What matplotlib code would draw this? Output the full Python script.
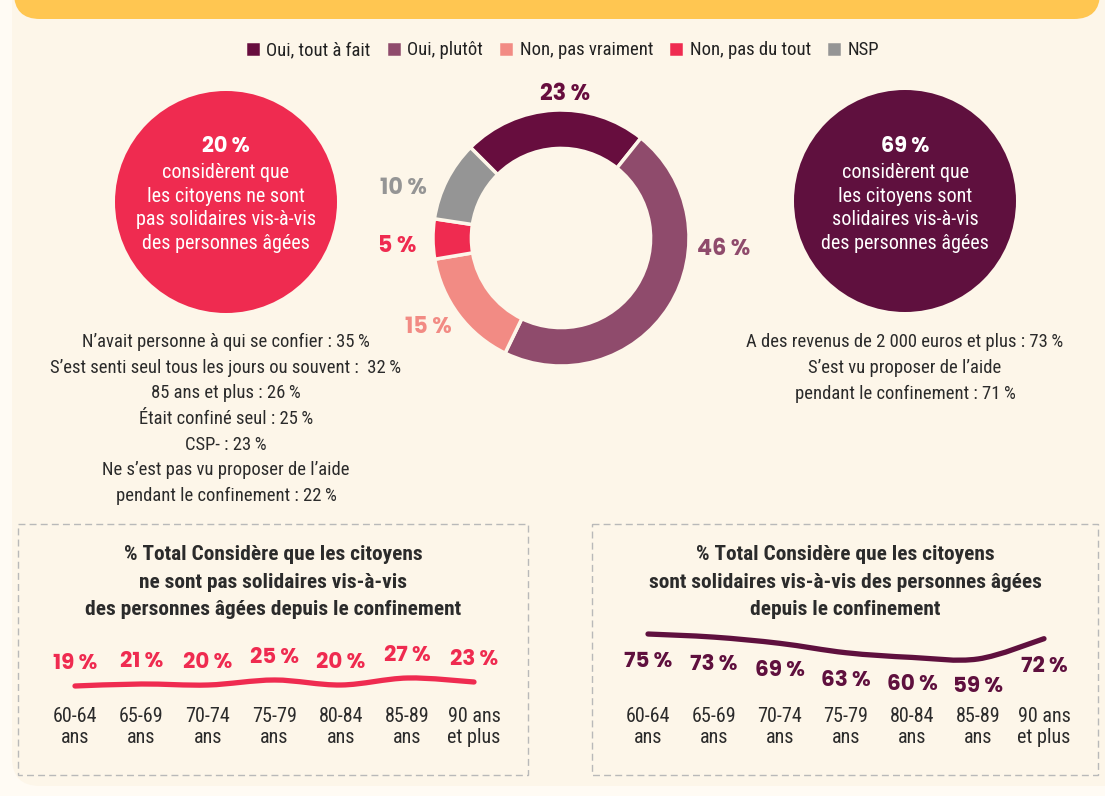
import matplotlib
matplotlib.use("Agg")
import matplotlib.pyplot as plt
import numpy as np
from matplotlib.patches import Circle, FancyBboxPatch, Rectangle, PathPatch
from matplotlib.path import Path

# --- Data ---
answers = ["Oui, tout à fait", "Oui, plutôt", "Non, pas vraiment", "Non, pas du tout", "NSP"]
shares = [23, 46, 15, 5, 10]
answer_colors = ["#670D3E", "#8F4B6C", "#F28B84", "#EF2B50", "#959595"]

not_solidary_total = 20
solidary_total = 69

not_solidary_profile = [
    "N\u2019avait personne à qui se confier : 35\u2009%",
    "S\u2019est senti seul tous les jours ou souvent :  32\u2009%",
    "85 ans et plus : 26\u2009%",
    "Était confiné seul : 25\u2009%",
    "CSP- : 23\u2009%",
    "Ne s\u2019est pas vu proposer de l\u2019aide",
    "pendant le confinement : 22\u2009%",
]
solidary_profile = [
    "A des revenus de 2 000 euros et plus : 73\u2009%",
    "S\u2019est vu proposer de l\u2019aide",
    "pendant le confinement : 71\u2009%",
]

age_groups = ["60-64\nans", "65-69\nans", "70-74\nans", "75-79\nans",
              "80-84\nans", "85-89\nans", "90 ans\net plus"]
not_solidary_by_age = [19, 21, 20, 25, 20, 27, 23]
solidary_by_age = [75, 73, 69, 63, 60, 59, 72]

# --- Style ---
W, H = 1105, 796
BG = "#FDF6E9"
TEXT = "#2B2B2B"
RED = "#EF2B50"
PLUM = "#5F103E"
NARROW = ["Roboto Condensed", "DejaVu Sans"]
HEAVY = ["Poppins", "DejaVu Sans"]

fig = plt.figure(figsize=(W / 100, H / 100), dpi=100)
fig.patch.set_facecolor("#FFFBF4")


def px_axes(left, top, width, height):
    """Axes placed with pixel coordinates measured from the top-left corner."""
    return fig.add_axes([left / W, 1 - (top + height) / H, width / W, height / H])


def smooth_path(xs, ys):
    """Catmull-Rom style bezier through the given points."""
    pts = np.column_stack([xs, ys]).astype(float)
    verts, codes = [pts[0]], [Path.MOVETO]
    for i in range(len(pts) - 1):
        p0, p1 = pts[max(i - 1, 0)], pts[i]
        p2, p3 = pts[i + 1], pts[min(i + 2, len(pts) - 1)]
        verts += [p1 + (p2 - p0) / 6, p2 - (p3 - p1) / 6, p2]
        codes += [Path.CURVE4] * 3
    return Path(verts, codes)


# background canvas in pixel units
bg = px_axes(0, 0, W, H)
bg.set_xlim(0, W)
bg.set_ylim(H, 0)
bg.axis("off")
bg.add_patch(FancyBboxPatch((12, -40), W + 30, H + 30, boxstyle="round,pad=0,rounding_size=28",
                            facecolor=BG, edgecolor="none"))
bg.add_patch(FancyBboxPatch((14, -60), 1086, 79, boxstyle="round,pad=0,rounding_size=26",
                            facecolor="#FFC651", edgecolor="none"))

# side bubbles
bg.add_patch(Circle((226, 202), 111, facecolor=RED, edgecolor="none"))
bg.add_patch(Circle((905, 201), 111, facecolor=PLUM, edgecolor="none"))
bubble_text = "considèrent que\n{}\n{}\ndes personnes âgées"
bg.text(226, 147, f"{not_solidary_total}\u2009%", color="white", ha="center", va="center",
        family=HEAVY, weight="bold", fontsize=15)
bg.text(226, 208, bubble_text.format("les citoyens ne sont", "pas solidaires vis-à-vis"),
        color="white", ha="center", va="center", family=NARROW, fontsize=14.5, linespacing=1.3)
bg.text(905, 147, f"{solidary_total}\u2009%", color="white", ha="center", va="center",
        family=HEAVY, weight="bold", fontsize=15)
bg.text(905, 208, bubble_text.format("les citoyens sont", "solidaires vis-à-vis"),
        color="white", ha="center", va="center", family=NARROW, fontsize=14.5, linespacing=1.3)

# profile lists under bubbles
bg.text(226, 419, "\n".join(not_solidary_profile), color=TEXT, ha="center", va="center",
        family=NARROW, fontsize=13.4, linespacing=1.54)
bg.text(905, 368, "\n".join(solidary_profile), color=TEXT, ha="center", va="center",
        family=NARROW, fontsize=13.4, linespacing=1.54)

# --- Donut ---
ax_d = px_axes(433, 110, 256, 256)
wedges, _ = ax_d.pie(shares, colors=answer_colors, startangle=135, counterclock=False,
                     radius=1, wedgeprops=dict(width=0.3, edgecolor=BG, linewidth=2.5))
ax_d.set_xlim(-1, 1)
ax_d.set_ylim(-1, 1)
ax_d.set_aspect("equal")
label_pos = [(0.03, 1.12), (1.27, -0.09), (-1.04, -0.70), (-1.28, -0.07), (-1.23, 0.39)]
for share, color, (lx, ly) in zip(shares, answer_colors, label_pos):
    ax_d.text(lx, ly, f"{share}\u2009%", color=color, ha="center", va="center",
              family=HEAVY, weight="bold", fontsize=16, clip_on=False)

fig.legend(wedges, answers, loc="center", bbox_to_anchor=(562 / W, 1 - 50 / H), ncol=5,
           frameon=False, handlelength=0.85, handleheight=1.0, handletextpad=0.3,
           columnspacing=0.8, borderpad=0, prop=dict(family=NARROW, size=13.5),
           labelcolor="#222222")

# --- Age group panels ---
for x0, x1 in [(18, 528), (592, 1098)]:
    bg.add_patch(Rectangle((x0, 524), x1 - x0, 251, facecolor="none", edgecolor="#B9B9B9",
                           linewidth=1, linestyle=(0, (5, 3))))

bg.text(273, 582, "% Total Considère que les citoyens\nne sont pas solidaires vis-à-vis\n"
        "des personnes âgées depuis le confinement", color=TEXT, ha="center", va="center",
        family=NARROW, weight="bold", fontsize=15.4, linespacing=1.56)
bg.text(845, 582, "% Total Considère que les citoyens\nsont solidaires vis-à-vis des personnes âgées\n"
        "depuis le confinement", color=TEXT, ha="center", va="center",
        family=NARROW, weight="bold", fontsize=15.4, linespacing=1.56)


def age_chart(left, width, top, height, values, ylim, color, label_offset):
    ax = px_axes(left, top, width, height)
    ax.set_xlim(-0.5, len(values) - 0.5)
    ax.set_ylim(*ylim)
    ax.add_patch(PathPatch(smooth_path(range(len(values)), values), fill=False,
                           edgecolor=color, linewidth=3.8, capstyle="round", clip_on=False))
    for i, v in enumerate(values):
        ax.annotate(f"{v}\u2009%", (i, v), xytext=(0, label_offset), textcoords="offset pixels",
                    ha="center", va="center", color=color, family=HEAVY, weight="bold",
                    fontsize=15.5, annotation_clip=False)
    ax.set_xticks(range(len(values)))
    ax.set_xticklabels(age_groups, family=NARROW, fontsize=14.5, color=TEXT, linespacing=1.12)
    ax.set_yticks([])
    ax.tick_params(length=0, pad=5)
    for s in ax.spines.values():
        s.set_visible(False)
    ax.patch.set_alpha(0)
    return ax


age_chart(41.75, 465.5, 640, 60, not_solidary_by_age, (5, 65), RED, 22)
age_chart(615, 462, 600, 100, solidary_by_age, (32.7, 96.8), "#5F103E", -28)

fig.savefig("out.png", dpi=100, facecolor=fig.get_facecolor())
